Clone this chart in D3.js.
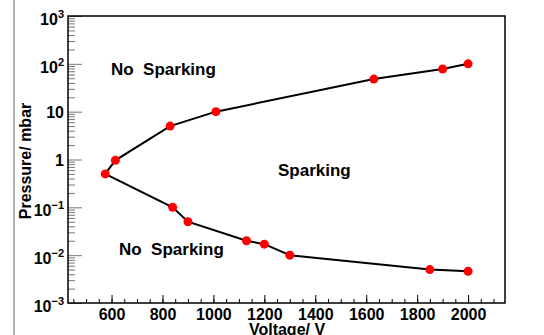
<!DOCTYPE html>
<html>
<head>
<meta charset="utf-8">
<script src="https://cdn.jsdelivr.net/npm/d3@7"></script>
<style>
  body { margin: 0; background: #fff; }
  svg text { font-family: "Liberation Sans", Arial, sans-serif; font-weight: bold; fill: #000; }
</style>
</head>
<body>
<div class="chart"></div>
<script>
// upper branch (sparking onset, high pressure side)
var upperV = [575, 615, 830, 1010, 1630, 1900, 2000];
var upperP = [0.5, 0.96, 5, 10, 48, 78, 100];
// lower branch
var lowerV = [575, 840, 900, 1130, 1200, 1300, 1850, 2000];
var lowerP = [0.5, 0.1, 0.05, 0.02, 0.017, 0.01, 0.005, 0.0046];

var xMajor = [600, 800, 1000, 1200, 1400, 1600, 1800, 2000];
var xMinor = d3.range(450, 2146, 50);
var yMajor = [1e-3, 1e-2, 1e-1, 1, 10, 1e2, 1e3];
var yLabels = [["10", "\u22123"], ["10", "\u22122"], ["10", "\u22121"], ["1", ""], ["10", ""], ["10", "2"], ["10", "3"]];

var width = 544, height = 335;
var pLeft = 68, pRight = 505, pTop = 16, pBottom = 303;

var svg = d3.select(".chart").append("svg")
    .attr("width", width)
    .attr("height", height);

// grey canvas border on the left
svg.append("line")
    .attr("x1", 14).attr("x2", 14).attr("y1", 0).attr("y2", height)
    .style("stroke", "#b0b0b0").style("stroke-width", 2);

var x = d3.scaleLinear().domain([429, 2145]).range([pLeft, pRight]);
var y = d3.scaleLog().domain([1e-3, 1e3]).range([pBottom, pTop]);

// minor log ticks
var yMinor = [];
yMajor.slice(0, -1).forEach(function (d) {
    for (var k = 2; k < 10; k++) yMinor.push(d * k);
});

// x ticks (inside)
svg.append("g").attr("transform", "translate(0," + pBottom + ")")
    .call(d3.axisBottom(x).tickValues(xMinor).tickSize(-4).tickSizeOuter(0).tickFormat(""))
    .call(function (g) { g.select(".domain").remove(); });
svg.append("g").attr("transform", "translate(0," + pBottom + ")")
    .call(d3.axisBottom(x).tickValues(xMajor).tickSize(-8).tickSizeOuter(0).tickFormat(d3.format("d")))
    .call(function (g) {
        g.select(".domain").remove();
        g.selectAll("text").attr("y", 17).attr("dy", 0)
            .style("font-size", "16px").style("font-family", "Liberation Sans, Arial, sans-serif").style("font-weight", "bold");
    });

// y ticks (inside)
svg.append("g").attr("transform", "translate(" + pLeft + ",0)")
    .call(d3.axisLeft(y).tickValues(yMinor).tickSize(-7).tickSizeOuter(0).tickFormat(""))
    .call(function (g) {
        g.select(".domain").remove();
        g.selectAll("line").style("stroke", "#777");
    });
svg.append("g").attr("transform", "translate(" + pLeft + ",0)")
    .call(d3.axisLeft(y).tickValues(yMajor).tickSize(-14).tickSizeOuter(0).tickFormat(""))
    .call(function (g) {
        g.select(".domain").remove();
        g.selectAll("line").style("stroke", "#777");
    });

// y tick labels with exponents
var ylab = svg.append("g").selectAll("text")
    .data(yMajor)
    .enter()
    .append("text")
    .attr("text-anchor", "end")
    .attr("x", 64)
    .attr("y", function (d, i) {
        return y(d) + (yLabels[i][1] ? 9 : 6);
    })
    .style("font-size", "16px");
ylab.append("tspan").text(function (d, i) { return yLabels[i][0]; });
ylab.append("tspan")
    .attr("dy", -7)
    .style("font-size", "11px")
    .text(function (d, i) { return yLabels[i][1]; });

// frame
svg.append("rect")
    .attr("x", pLeft).attr("y", pTop)
    .attr("width", pRight - pLeft).attr("height", pBottom - pTop)
    .style("fill", "none").style("stroke", "#000").style("stroke-width", 1.5);

// curves
var line = d3.line()
    .x(function (d) { return x(d[0]); })
    .y(function (d) { return y(d[1]); });

var upper = upperV.map(function (v, i) { return [v, upperP[i]]; });
var lower = lowerV.map(function (v, i) { return [v, lowerP[i]]; });

svg.append("g").selectAll("path.branch")
    .data([upper, lower])
    .enter()
    .append("path")
    .attr("class", "branch")
    .attr("d", line)
    .style("fill", "none").style("stroke", "#000").style("stroke-width", 2);

svg.append("g").selectAll("circle")
    .data(upper.concat(lower.slice(1)))
    .enter()
    .append("circle")
    .attr("cx", function (d) { return x(d[0]); })
    .attr("cy", function (d) { return y(d[1]); })
    .attr("r", 4.5)
    .style("fill", "#ff0000");

// region labels
svg.append("text").attr("x", 111).attr("y", 75)
    .style("font-size", "17px").style("white-space", "pre").text("No  Sparking");
svg.append("text").attr("x", 278).attr("y", 176)
    .style("font-size", "17px").text("Sparking");
svg.append("text").attr("x", 119).attr("y", 255)
    .style("font-size", "17px").style("white-space", "pre").text("No  Sparking");

// axis titles
svg.append("text")
    .attr("text-anchor", "middle")
    .attr("transform", "translate(287,335)")
    .style("font-size", "16px")
    .text("Voltage/ V");
svg.append("text")
    .attr("text-anchor", "middle")
    .attr("transform", "translate(31,161) rotate(-90)")
    .style("font-size", "16px")
    .text("Pressure/ mbar");
</script>
</body>
</html>
